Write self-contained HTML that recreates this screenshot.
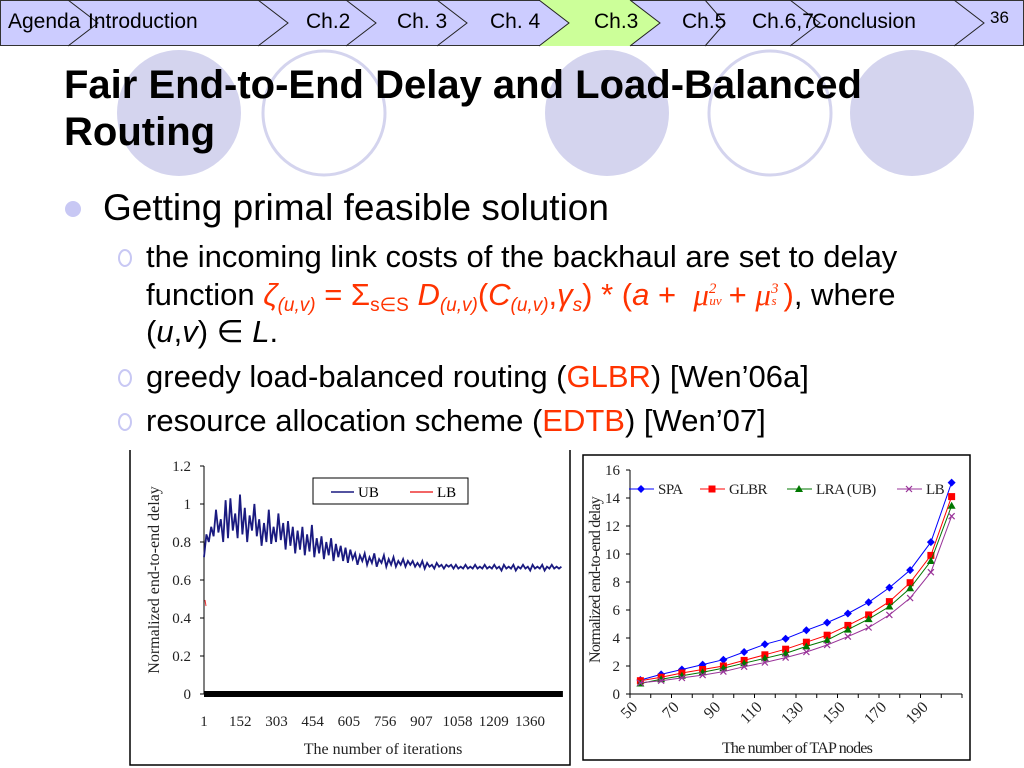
<!DOCTYPE html>
<html><head><meta charset="utf-8"><style>
body{margin:0;width:1024px;height:768px;overflow:hidden;background:#fff;font-family:"Liberation Sans",Arial,sans-serif;position:relative}
.abs{position:absolute;white-space:nowrap}
.r{color:#ff3300}
.sub{font-size:19px;position:relative;top:6px}
.nav span{position:absolute}
</style></head><body>
<svg width="1024" height="768" style="position:absolute;left:0;top:0">
  <g fill="#d4d4ee">
    <ellipse cx="179" cy="113" rx="62" ry="63"/>
    <ellipse cx="607" cy="113" rx="62" ry="63"/>
    <ellipse cx="912" cy="113" rx="62" ry="63"/>
    <ellipse cx="324" cy="113" rx="61" ry="62" fill="none" stroke="#d4d4ee" stroke-width="3"/>
    <ellipse cx="770" cy="113" rx="61" ry="62" fill="none" stroke="#d4d4ee" stroke-width="3"/>
  </g>
  <g>
    <rect x="0.5" y="0.5" width="1023" height="45" fill="#ccccff" stroke="#333"/>
    <polygon points="539,0 630,0 660,23 630,46 539,46 569,23" fill="#ccff99"/>
    <g fill="none" stroke="#222" stroke-width="1">
      <polyline points="68,0 98,23 68,46"/>
      <polyline points="258,0 288,23 258,46"/>
      <polyline points="346,0 376,23 346,46"/>
      <polyline points="437,0 467,23 437,46"/>
      <polyline points="539,0 569,23 539,46"/>
      <polyline points="630,0 660,23 630,46"/>
      <polyline points="705,0 725,23 705,46"/>
      <polyline points="790,0 820,23 790,46"/>
      <polyline points="954,0 984,23 954,46"/>
    </g>
  </g>
  <circle cx="73" cy="209" r="8" fill="#c8c8f4"/>
  <g fill="none" stroke="#c8c8f4" stroke-width="2">
    <ellipse cx="125" cy="258" rx="6" ry="8"/>
    <ellipse cx="125" cy="378" rx="6" ry="8"/>
    <ellipse cx="125" cy="422" rx="6" ry="8"/>
  </g>
</svg>
<div class="abs nav" style="left:0;top:10px;width:1024px;height:30px;font-size:21px">
  <span style="left:8px">Agenda</span>
  <span style="left:88px">Introduction</span>
  <span style="left:306px">Ch.2</span>
  <span style="left:397px">Ch. 3</span>
  <span style="left:490px">Ch. 4</span>
  <span style="left:594px">Ch.3</span>
  <span style="left:682px">Ch.5</span>
  <span style="left:752px">Ch.6,7</span>
  <span style="left:812px">Conclusion</span>
  <span style="left:990px;top:-2px;font-size:17px">36</span>
</div>
<div class="abs" style="left:64px;top:62px;font-size:40px;font-weight:bold;line-height:47px">Fair End-to-End Delay and Load-Balanced<br>Routing</div>
<div class="abs" style="left:103px;top:187px;font-size:37px">Getting primal feasible solution</div>
<div>
<div class="abs" style="left:146px;top:239px;font-size:31px">the incoming link costs of the backhaul are set to delay</div>
<div class="abs" style="left:146px;top:277px;font-size:31px">function <span class="r"><i>ζ</i><span class="sub"><i>(u,v)</i></span> = Σ<span class="sub">s∈S</span> <i>D</i><span class="sub"><i>(u,v)</i></span>(<i>C</i><span class="sub"><i>(u,v)</i></span>,<i>γ<span class="sub">s</span></i>) * (<i>a</i> + &nbsp;<i style="font-family:'Liberation Serif',serif">μ<span style="font-size:15px;position:relative;top:-12px">2</span><span style="font-size:13px;position:relative;left:-7px">uv</span></i>+ <i style="font-family:'Liberation Serif',serif">μ<span style="font-size:15px;position:relative;top:-12px">3</span><span style="font-size:13px;position:relative;left:-7px">s</span></i>)</span>, where</div>
<div class="abs" style="left:146px;top:314px;font-size:31px">(<i>u</i>,<i>v</i>) ∈ <i>L</i>.</div>
</div>
<div class="abs" style="left:146px;top:359px;font-size:31px">greedy load-balanced routing (<span class="r">GLBR</span>) [Wen’06a]</div>
<div class="abs" style="left:146px;top:403px;font-size:31px">resource allocation scheme (<span class="r">EDTB</span>) [Wen’07]</div>

<svg id="c1" width="1024" height="768" style="position:absolute;left:0;top:0" font-family="Liberation Serif, serif"></svg>
<svg id="c2" width="1024" height="768" style="position:absolute;left:0;top:0" font-family="Liberation Serif, serif"></svg>
<script>
const NS='http://www.w3.org/2000/svg';
function mk(p,t,a){const e=document.createElementNS(NS,t);for(const k in a)e.setAttribute(k,a[k]);p.appendChild(e);return e;}
// ---- Chart 1 data ----
const iterTicks=[1,152,303,454,605,756,907,1058,1209,1360];
const delayTicks=[0,0.2,0.4,0.6,0.8,1,1.2];
const iterStep=10;
const ubValues=[0.72,0.84,0.80,0.88,0.83,0.97,0.85,0.92,0.80,1.02,0.82,1.03,0.86,0.95,0.82,1.05,0.84,0.98,0.80,0.94,0.86,1.00,0.83,0.92,0.78,0.90,0.80,0.97,0.79,0.88,
0.80,0.95,0.81,0.90,0.76,0.91,0.78,0.88,0.74,0.86,0.76,0.88,0.73,0.84,0.75,0.89,0.72,0.82,0.74,0.83,0.71,0.80,0.73,0.82,0.70,0.79,0.72,0.78,0.70,0.77,
0.69,0.76,0.71,0.74,0.68,0.73,0.70,0.74,0.68,0.72,0.69,0.74,0.67,0.71,0.69,0.73,0.67,0.71,0.68,0.72,0.67,0.70,0.68,0.71,0.67,0.70,0.68,0.70,0.67,0.69,
0.67,0.70,0.66,0.69,0.67,0.68,0.66,0.69,0.67,0.68,0.66,0.68,0.67,0.68,0.66,0.68,0.66,0.67,0.66,0.68,0.66,0.67,0.66,0.68,0.66,0.67,0.66,0.68,0.66,0.67,
0.66,0.68,0.66,0.67,0.65,0.68,0.66,0.67,0.66,0.68,0.65,0.67,0.66,0.68,0.66,0.67,0.65,0.68,0.66,0.67,0.66,0.68,0.65,0.67,0.66,0.68,0.66,0.67,0.66,0.67];
const lbValues=[0,0,0];
// ---- Chart 2 data ----
const tapNodes=[50,60,70,80,90,100,110,120,130,140,150,160,170,180,190,200];
const tapLabels=[50,70,90,110,130,150,170,190];
const spaValues=[1.0,1.4,1.75,2.1,2.45,3.0,3.55,3.95,4.55,5.1,5.75,6.55,7.6,8.85,10.85,15.1];
const glbrValues=[0.95,1.2,1.5,1.75,2.0,2.4,2.8,3.2,3.7,4.2,4.9,5.65,6.6,7.95,9.9,14.1];
const lraValues=[0.75,1.05,1.3,1.55,1.85,2.2,2.55,2.9,3.4,3.85,4.6,5.35,6.25,7.55,9.5,13.45];
const lbTapValues=[0.8,0.95,1.15,1.35,1.6,1.95,2.25,2.6,3.0,3.5,4.1,4.75,5.65,6.85,8.7,12.7];
const yTicks2=[0,2,4,6,8,10,12,14,16];

// Chart 1
(function(){
  const s=document.getElementById('c1');
  const X=v=>204+(v-1)*(530-204)/1359, Y=v=>694-v*(694-466)/1.2;
  let e=mk(s,'path',{d:'M130,450 V765 H570 V450',fill:'none',stroke:'#000','stroke-width':1.5});
  
  mk(s,'line',{x1:204,y1:466,x2:204,y2:694,stroke:'#000'});
  delayTicks.forEach(t=>{mk(s,'line',{x1:200,x2:204,y1:Y(t),y2:Y(t),stroke:'#000'});
    const tx=mk(s,'text',{x:191,y:Y(t)+5,'text-anchor':'end','font-size':15,fill:'#222'});tx.textContent=t;
    });
  iterTicks.forEach(t=>{const tx=mk(s,'text',{x:X(t),y:726,'text-anchor':'middle','font-size':15,fill:'#222'});tx.textContent=t;
    });
  let d='';ubValues.forEach((v,i)=>{d+=(i?'L':'M')+X(1+i*iterStep).toFixed(1)+','+Y(v).toFixed(1);});
  const ub=mk(s,'path',{d:d,fill:'none',stroke:'#1a1a80','stroke-width':1.8});
  
  let d2='';lbValues.forEach((v,i)=>{d2+=(i?'L':'M')+X(1+i*(1496/(lbValues.length-1))).toFixed(1)+','+Y(v).toFixed(1);});
  const lb=mk(s,'path',{d:d2,fill:'none',stroke:'#000','stroke-width':6});
  
  mk(s,'line',{x1:205,y1:600,x2:206,y2:606,stroke:'#e33','stroke-width':1});
  const lg=mk(s,'g',{});
  mk(lg,'rect',{x:313,y:478,width:155,height:26,fill:'#fff',stroke:'#000'});
  mk(lg,'line',{x1:331,x2:354,y1:492,y2:492,stroke:'#1a1a80','stroke-width':1.5});
  let t=mk(lg,'text',{x:358,y:497,'font-size':15});t.textContent='UB';
  mk(lg,'line',{x1:410,x2:433,y1:492,y2:492,stroke:'#e33','stroke-width':1.5});
  t=mk(lg,'text',{x:437,y:497,'font-size':15});t.textContent='LB';
  t=mk(s,'text',{x:383,y:754,'text-anchor':'middle','font-size':16,fill:'#222'});t.textContent='The number of iterations';
  
  t=mk(s,'text',{x:0,y:0,'text-anchor':'middle','font-size':16,fill:'#222',transform:'translate(159,580) rotate(-90)'});t.textContent='Normalized end-to-end delay';
  
})();

// Chart 2
(function(){
  const s=document.getElementById('c2');
  const x0=630,x1=962,cw=(x1-x0)/tapNodes.length;
  const X=i=>x0+cw*(i+0.5), Y=v=>694-v*(694-470)/16;
  let e=mk(s,'rect',{x:583,y:455,width:387,height:305,fill:'none',stroke:'#000','stroke-width':1.5});
  
  mk(s,'line',{x1:x0,y1:470,x2:x0,y2:694,stroke:'#000'});
  mk(s,'line',{x1:x0,y1:694,x2:x1,y2:694,stroke:'#000'});
  yTicks2.forEach(t=>{mk(s,'line',{x1:x0-4,x2:x0,y1:Y(t),y2:Y(t),stroke:'#000'});
    const tx=mk(s,'text',{x:x0-10,y:Y(t)+5,'text-anchor':'end','font-size':15,fill:'#222'});tx.textContent=t;
    });
  for(let i=0;i<=tapNodes.length;i++)mk(s,'line',{x1:x0+cw*i,x2:x0+cw*i,y1:694,y2:698,stroke:'#000'});
  tapLabels.forEach(l=>{const i=tapNodes.indexOf(l);const xx=X(i)-2;
    const tx=mk(s,'text',{x:0,y:0,'text-anchor':'end','font-size':16,fill:'#222',transform:`translate(${xx},708) rotate(-45)`});tx.textContent=l;
    });
  const series=[[spaValues,'#0000ff','d','spa'],[glbrValues,'#ff0000','s','glbr'],[lraValues,'#007700','t','lra'],[lbTapValues,'#993399','x','lb']];
  function marker(g,type,cx,cy,c){
    if(type==='d')mk(g,'polygon',{points:`${cx},${cy-4} ${cx+4},${cy} ${cx},${cy+4} ${cx-4},${cy}`,fill:c});
    else if(type==='s')mk(g,'rect',{x:cx-3.5,y:cy-3.5,width:7,height:7,fill:c});
    else if(type==='t')mk(g,'polygon',{points:`${cx},${cy-4} ${cx+4},${cy+3} ${cx-4},${cy+3}`,fill:c});
    else{mk(g,'path',{d:`M${cx-3},${cy-3}L${cx+3},${cy+3}M${cx+3},${cy-3}L${cx-3},${cy+3}`,stroke:c,'stroke-width':1.2});}
  }
  series.forEach(([vals,c,m,n])=>{
    const g=mk(s,'g',{});
    let d='';vals.forEach((v,i)=>{d+=(i?'L':'M')+X(i).toFixed(1)+','+Y(v).toFixed(1);});
    mk(g,'path',{d:d,fill:'none',stroke:c,'stroke-width':1});
    vals.forEach((v,i)=>marker(g,m,X(i),Y(v),c));
  });
  const lg=mk(s,'g',{});
  const items=[['SPA',629,'#0000ff','d'],['GLBR',700,'#ff0000','s'],['LRA (UB)',787,'#007700','t'],['LB',897,'#993399','x']];
  items.forEach(([lab,x,c,m])=>{mk(lg,'line',{x1:x,x2:x+25,y1:489,y2:489,stroke:c});marker(lg,m,x+12,489,c);
    const t=mk(lg,'text',{x:x+29,y:494,'font-size':15,fill:'#222','letter-spacing':'-0.5'});t.textContent=lab;});
  let t=mk(s,'text',{x:797,y:753,'text-anchor':'middle','font-size':16,fill:'#222','letter-spacing':'-0.8'});t.textContent='The number of TAP nodes';
  
  t=mk(s,'text',{x:0,y:0,'text-anchor':'middle','font-size':16,fill:'#222','letter-spacing':'-0.8',transform:'translate(600,580) rotate(-90)'});t.textContent='Normalized end-to-end delay';
  
})();
</script>
</body></html>
